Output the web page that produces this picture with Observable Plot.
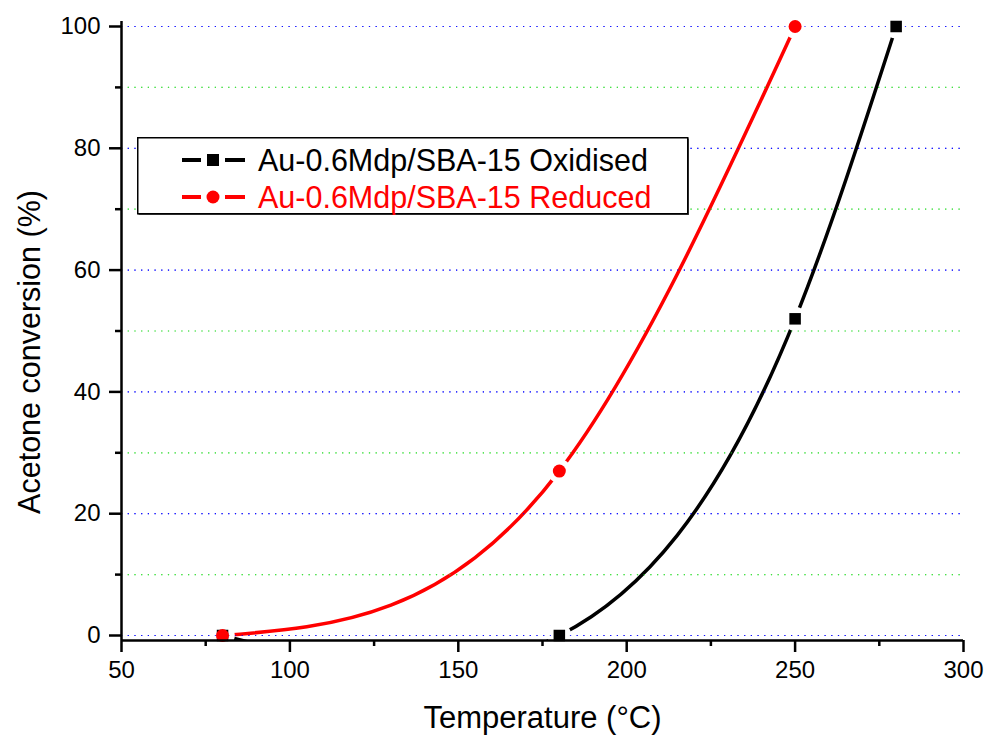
<!DOCTYPE html>
<html>
<head>
<meta charset="utf-8">
<script src="https://cdn.jsdelivr.net/npm/d3@7"></script>
<script src="https://cdn.jsdelivr.net/npm/@observablehq/plot@0.6"></script>
<style>
  html, body { margin: 0; padding: 0; background: #fff; }
  #wrap { position: relative; width: 986px; height: 738px; font-family: "Liberation Sans", Arial, sans-serif; }
  #legend { position: absolute; left: 137px; top: 137px; }
  #chart svg g[aria-label$="tick label"] text, #chart svg g[aria-label$="tick label"] { font-size: 24px !important; }
</style>
</head>
<body>
<div id="wrap"><div id="chart"></div><div id="legend"></div></div>
<script>
// Data
const oxTemp = [80, 180, 250, 280];
const oxConv = [0, 0, 52, 100];
const redTemp = [80, 180, 250];
const redConv = [0, 27, 100];
const seriesNames = ["Au-0.6Mdp/SBA-15 Oxidised", "Au-0.6Mdp/SBA-15 Reduced"];
const seriesColors = ["#000000", "#ff0000"];
const xMajor = [50, 100, 150, 200, 250, 300];
const xMinor = [75, 125, 175, 225, 275];
const yMajor = [0, 20, 40, 60, 80, 100];
const yMinor = [10, 30, 50, 70, 90];

const ox = oxTemp.map((t, i) => ({t, c: oxConv[i], s: seriesNames[0]}));
const red = redTemp.map((t, i) => ({t, c: redConv[i], s: seriesNames[1]}));
const all = ox.concat(red);

// Curve factory: natural cubic spline with y as a function of x (like Origin's spline connector)
function naturalInX(context) {
  let xs, ys;
  return {
    areaStart() {}, areaEnd() {},
    lineStart() { xs = []; ys = []; },
    point(x, y) { xs.push(+x); ys.push(+y); },
    lineEnd() {
      const n = xs.length;
      if (!n) return;
      context.moveTo(xs[0], ys[0]);
      if (n === 2) { context.lineTo(xs[1], ys[1]); return; }
      const h = [], s = [];
      for (let i = 0; i < n - 1; i++) { h.push(xs[i + 1] - xs[i]); s.push((ys[i + 1] - ys[i]) / h[i]); }
      const M = new Array(n).fill(0);
      const m = n - 2;
      if (m > 0) {
        const a = [], b = [], c = [], d = [];
        for (let i = 1; i <= m; i++) {
          a.push(h[i - 1]); b.push(2 * (h[i - 1] + h[i])); c.push(h[i]); d.push(6 * (s[i] - s[i - 1]));
        }
        for (let i = 1; i < m; i++) {
          const w = a[i] / b[i - 1];
          b[i] -= w * c[i - 1];
          d[i] -= w * d[i - 1];
        }
        const sol = new Array(m);
        sol[m - 1] = d[m - 1] / b[m - 1];
        for (let i = m - 2; i >= 0; i--) sol[i] = (d[i] - c[i] * sol[i + 1]) / b[i];
        for (let i = 0; i < m; i++) M[i + 1] = sol[i];
      }
      for (let i = 0; i < n - 1; i++) {
        const hi = h[i];
        const m0 = s[i] - hi * (2 * M[i] + M[i + 1]) / 6;
        const m1 = s[i] + hi * (M[i] + 2 * M[i + 1]) / 6;
        context.bezierCurveTo(xs[i] + hi / 3, ys[i] + m0 * hi / 3, xs[i + 1] - hi / 3, ys[i + 1] - m1 * hi / 3, xs[i + 1], ys[i + 1]);
      }
    }
  };
}

const font = "'Liberation Sans', Arial, sans-serif";
const gridMarks = () => [
  Plot.gridY(yMajor, {stroke: "#0000ff", strokeOpacity: 0.75, strokeWidth: 1.2, strokeDasharray: "1.2,5.5"}),
  Plot.gridY(yMinor, {stroke: "#33dd33", strokeOpacity: 0.75, strokeWidth: 1.2, strokeDasharray: "1.2,5.5"})
];

const chart = Plot.plot({
  width: 986,
  height: 738,
  marginLeft: 121,
  marginRight: 23,
  marginTop: 21,
  marginBottom: 98,
  style: {fontFamily: font, fontSize: "24px", color: "#000", background: "#fff", overflow: "visible"},
  x: {domain: [50, 300]},
  y: {domain: [-0.82, 100.82]},
  marks: [
    ...gridMarks(),
    Plot.line(ox, {x: "t", y: "c", stroke: seriesColors[0], strokeWidth: 3.5, curve: naturalInX, clip: true}),
    Plot.line(red, {x: "t", y: "c", stroke: seriesColors[1], strokeWidth: 3.5, curve: naturalInX, clip: true}),
    Plot.dot(all, {x: "t", y: "c", r: 12, fill: "#fff", stroke: null}),
    ...gridMarks(),
    Plot.dot(ox, {x: "t", y: "c", symbol: "square", r: 6.5, fill: seriesColors[0], stroke: null}),
    Plot.dot(red, {x: "t", y: "c", symbol: "circle", r: 6.5, fill: seriesColors[1], stroke: null}),
    Plot.ruleX([50], {stroke: "#000", strokeWidth: 2.5}),
    Plot.ruleY([-0.82], {stroke: "#000", strokeWidth: 2.5}),
    Plot.axisX(xMajor, {tickSize: 12, tickPadding: 8, fontSize: 24, strokeWidth: 2.5, label: null}),
    Plot.axisX(xMinor, {tickSize: 6, tickFormat: () => "", strokeWidth: 2.5, label: null}),
    Plot.axisY(yMajor, {tickSize: 12, tickPadding: 9, fontSize: 24, strokeWidth: 2.5, label: null}),
    Plot.axisY(yMinor, {tickSize: 6, tickFormat: () => "", strokeWidth: 2.5, label: null}),
    Plot.text(["Temperature (°C)"], {frameAnchor: "bottom", dy: 78, fontSize: 31, textAnchor: "middle", lineAnchor: "middle", fill: "#000"}),
    Plot.text(["Acetone conversion (%)"], {frameAnchor: "left", dx: -91, dy: 21, rotate: -90, fontSize: 30.5, textAnchor: "middle", lineAnchor: "middle", fill: "#000"})
  ]
});
d3.select(chart).selectAll("g[aria-label$='tick label'] text").attr("font-size", 24);
document.getElementById("chart").appendChild(chart);

// Legend (inside the plot area, top-left)
const lw = 552, lh = 78;
const lsvg = d3.select("#legend").append("svg")
  .attr("width", lw).attr("height", lh)
  .style("font-family", font).style("overflow", "visible");
lsvg.append("rect").attr("x", 1.5).attr("y", 1.5).attr("width", lw - 1.5).attr("height", lh - 1.5).attr("fill", "#555");
lsvg.append("rect").attr("x", 0.75).attr("y", 0.75).attr("width", lw - 2).attr("height", lh - 2)
  .attr("fill", "#fff").attr("stroke", "#000").attr("stroke-width", 1.5);
seriesNames.forEach((name, i) => {
  const cy = 23 + i * 37;
  const col = seriesColors[i];
  const g = lsvg.append("g");
  g.append("line").attr("x1", 45).attr("x2", 64).attr("y1", cy).attr("y2", cy).attr("stroke", col).attr("stroke-width", 4);
  g.append("line").attr("x1", 88).attr("x2", 108).attr("y1", cy).attr("y2", cy).attr("stroke", col).attr("stroke-width", 4);
  if (i === 0) g.append("rect").attr("x", 70).attr("y", cy - 6).attr("width", 12).attr("height", 12).attr("fill", col);
  else g.append("circle").attr("cx", 76).attr("cy", cy).attr("r", 6.5).attr("fill", col);
  g.append("text").attr("x", 121).attr("y", cy).attr("dy", "0.36em").attr("font-size", 30.5).attr("fill", col).text(name);
});
</script>
</body>
</html>
